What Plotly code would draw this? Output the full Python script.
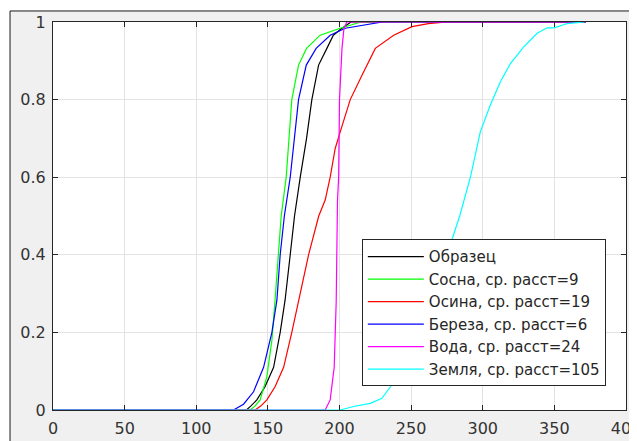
import plotly.graph_objects as go

# ---- data ----
names = ["Образец", "Сосна, ср. расст=9", "Осина, ср. расст=19",
         "Береза, ср. расст=6", "Вода, ср. расст=24", "Земля, ср. расст=105"]
colors = ["#000000", "#00ff00", "#ff0000", "#0000ff", "#ff00ff", "#00ffff"]

obr_x = [0, 135, 138, 142.3, 148, 154, 158.6, 162, 165.6, 168.6, 172.6, 177, 180.7, 185.4, 191.2, 195.7, 201.7, 208, 372]
obr_y = [0, 0, 0.01, 0.026, 0.06, 0.11, 0.2, 0.283, 0.4, 0.5, 0.6, 0.7, 0.8, 0.889, 0.932, 0.966, 0.984, 1, 1]

sosna_x = [0, 137.6, 141, 144.6, 149.3, 152.8, 155, 157.4, 159.3, 162.8, 166.7, 171.4, 177, 186.5, 200.5, 215, 372]
sosna_y = [0, 0, 0.01, 0.026, 0.086, 0.18, 0.283, 0.4, 0.5, 0.6, 0.8, 0.889, 0.932, 0.966, 0.984, 1, 1]

osina_x = [0, 141, 145, 149.3, 155, 161, 166.7, 171.4, 178.4, 185.5, 190, 193.5, 197, 200.5, 207.5, 215.7, 225, 237.8, 250.6, 262, 275, 372]
osina_y = [0, 0, 0.01, 0.026, 0.06, 0.11, 0.2, 0.283, 0.4, 0.5, 0.541, 0.6, 0.674, 0.717, 0.8, 0.863, 0.932, 0.966, 0.988, 0.996, 1, 1]

bereza_x = [0, 126, 133, 140, 147, 152.8, 156.3, 158.6, 161.5, 165.6, 171.4, 176.8, 183.7, 193.5, 204, 230, 372]
bereza_y = [0, 0, 0.015, 0.047, 0.11, 0.2, 0.283, 0.4, 0.5, 0.6, 0.8, 0.889, 0.932, 0.966, 0.984, 1, 1]

voda_x = [0, 190, 193.5, 196.3, 197.7, 198.6, 199.4, 200, 201.7, 203, 205, 372]
voda_y = [0, 0, 0.026, 0.11, 0.28, 0.54, 0.6, 0.8, 0.93, 0.98, 1, 1]

zemlya_x = [0, 200.5, 209.8, 221.5, 229.6, 236.6, 245, 255, 265, 272, 278.6, 283.9, 286.7, 291.4, 298.3, 305.3,
            312.3, 319.3, 328.6, 338, 345, 350, 359, 371]
zemlya_y = [0, 0, 0.009, 0.017, 0.03, 0.065, 0.12, 0.2, 0.3, 0.37, 0.44, 0.5, 0.54, 0.6, 0.717, 0.786,
            0.846, 0.893, 0.936, 0.971, 0.985, 0.985, 0.996, 1]

x_ticks = [0, 50, 100, 150, 200, 250, 300, 350, 400]
y_ticks = [0, 0.2, 0.4, 0.6, 0.8, 1]
y_tick_text = ["0", "0.2", "0.4", "0.6", "0.8", "1"]

series = [(obr_x, obr_y), (sosna_x, sosna_y), (osina_x, osina_y),
          (bereza_x, bereza_y), (voda_x, voda_y), (zemlya_x, zemlya_y)]

FONT = "DejaVu Sans, Arial"

fig = go.Figure()
for (xs, ys), nm, c in zip(series, names, colors):
    fig.add_trace(go.Scatter(x=xs, y=ys, mode="lines", name=nm,
                             line=dict(color=c, width=1.2)))

axis_common = dict(showline=True, linecolor="#262626", linewidth=1, mirror="ticks",
                   ticks="inside", ticklen=5, tickcolor="#262626", automargin=False,
                   showgrid=True, gridcolor="#e3e3e3", gridwidth=1, zeroline=False,
                   ticklabeloverflow="allow",
                   tickfont=dict(family=FONT, size=16, color="#333333"))

fig.update_xaxes(range=[0, 400], tickvals=x_ticks, ticklabelstandoff=4, **axis_common)
fig.update_yaxes(range=[0, 1], tickvals=y_ticks, ticktext=y_tick_text, ticklabelstandoff=3, **axis_common)

fig.update_layout(
    width=629, height=433,
    margin=dict(l=45, r=11, t=14, b=31, pad=0, autoexpand=False),
    paper_bgcolor="white", plot_bgcolor="white",
    showlegend=True,
    legend=dict(x=0.539, y=0.44, xanchor="left", yanchor="top", itemwidth=56,
                bgcolor="white", bordercolor="#262626", borderwidth=1,
                font=dict(family=FONT, size=15, color="#262626")),
    shapes=[
        dict(type="rect", xref="paper", yref="paper", x0=-0.075, x1=1.05, y0=-0.2, y1=1.0284,
             fillcolor="#f0f0f0", line=dict(color="#1a1a1a", width=1), layer="below"),
        dict(type="rect", xref="paper", yref="paper", x0=0, x1=1, y0=0, y1=1,
             fillcolor="white", line=dict(width=0), layer="below"),
    ],
)

fig.write_html("out.html")
